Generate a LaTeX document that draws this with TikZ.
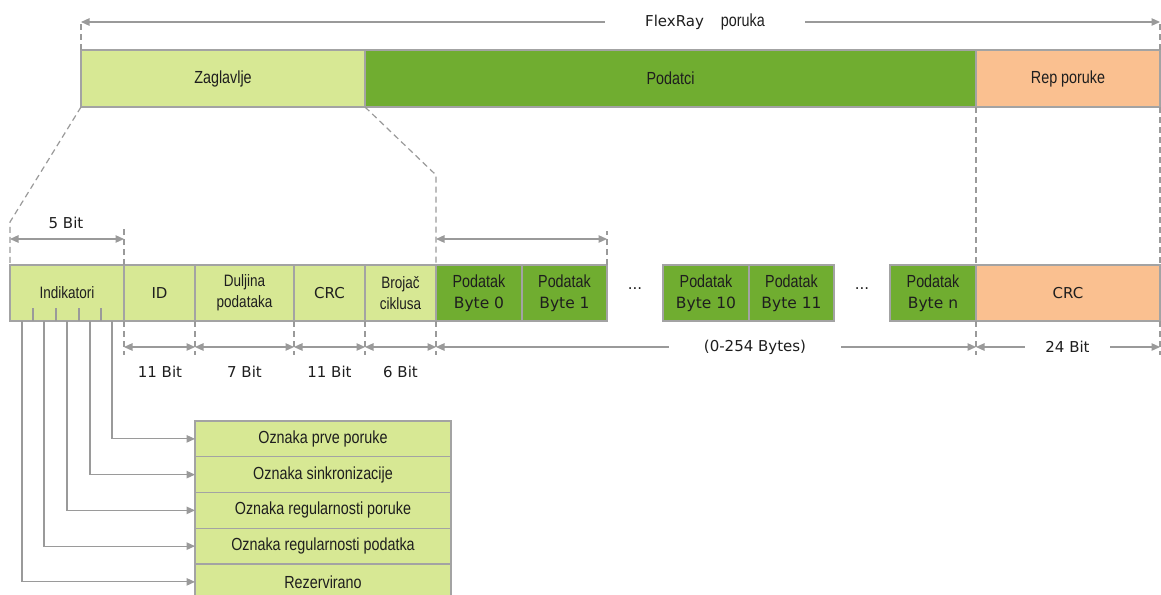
\documentclass[tikz,border=0pt]{standalone}
\usepackage{fontspec}
\usetikzlibrary{arrows.meta}
\newfontfamily\narrowf{Liberation Sans}[FakeStretch=0.82]
\newfontfamily\verdf{DejaVu Sans}
\definecolor{lg}{HTML}{D7E894}
\definecolor{dg}{HTML}{70AD30}
\definecolor{og}{HTML}{FAC090}
\definecolor{bd}{HTML}{A3A3A3}
\definecolor{ln}{HTML}{9A9A9A}
\definecolor{tx}{HTML}{1E1E1E}
\begin{document}
\begin{tikzpicture}[x=1pt,y=-1pt,
 cell/.style={draw=bd, line width=1.2pt, anchor=north west, inner sep=0pt, outer sep=0pt, text=tx, align=center},
 nf/.style={font=\narrowf\fontsize{17.5}{21}\selectfont},
 nfs/.style={font=\narrowf\fontsize{16.5}{21}\selectfont},
 vf/.style={font=\verdf\fontsize{15}{21}\selectfont},
 dim/.style={draw=ln, line width=1.2pt, {Triangle[length=8.5pt,width=7.5pt]}-{Triangle[length=8.5pt,width=7.5pt]}},
 guide/.style={draw=ln, line width=1.2pt, dash pattern=on 6pt off 4pt},
 conn/.style={draw=ln, line width=1.2pt, -{Triangle[length=8.5pt,width=7.5pt]}},
 tick/.style={draw=ln, line width=1.2pt},
 lbl/.style={vf, text=tx, fill=white, inner ysep=1pt}
]
\clip (0,0) rectangle (1161,594);
\fill[white] (0,0) rectangle (1161,594);

% top bar
\node[cell,fill=lg,nf,minimum width=284,minimum height=57] (zag) at (81,50) {Zaglavlje};
\node[cell,fill=dg,nf,minimum width=611,minimum height=57] (pod) at (365,50) {Podatci};
\node[cell,fill=og,nf,minimum width=184,minimum height=57] (rep) at (976,50) {Rep poruke};

% top dimension
\coordinate (tl) at (81,22);
\coordinate (tr) at (1160,22);
\draw[guide] (zag.north west) -- (tl);
\draw[guide] (rep.north east) -- (tr);
\draw[dim] (tl) -- (tr);
\node[lbl, inner xsep=40pt] (flex) at (705,22) {{\verdf FlexRay}\hspace{17pt}{\narrowf\fontsize{17.5}{21}\selectfont poruka}};

% row
\node[cell,fill=lg,nfs,minimum width=114,minimum height=56] (ind) at (10,265) {Indikatori};
\node[cell,fill=lg,vf,minimum width=71,minimum height=56] (id) at (124,265) {ID};
\node[cell,fill=lg,nfs,minimum width=99,minimum height=56] (dul) at (195,265) {Duljina\\podataka};
\node[cell,fill=lg,vf,minimum width=71,minimum height=56] (crca) at (294,265) {CRC};
\node[cell,fill=lg,nfs,minimum width=71,minimum height=56] (broj) at (365,265) {Brojač\\ciklusa};
\node[cell,fill=dg,nf,minimum width=86,minimum height=56] (b0) at (436,265) {Podatak\\{\verdf\fontsize{15.5}{21}\selectfont Byte 0}};
\node[cell,fill=dg,nf,minimum width=85,minimum height=56] (b1) at (522,265) {Podatak\\{\verdf\fontsize{15.5}{21}\selectfont Byte 1}};
\node[cell,fill=dg,nf,minimum width=86,minimum height=56] (b10) at (663,265) {Podatak\\{\verdf\fontsize{15.5}{21}\selectfont Byte 10}};
\node[cell,fill=dg,nf,minimum width=85,minimum height=56] (b11) at (749,265) {Podatak\\{\verdf\fontsize{15.5}{21}\selectfont Byte 11}};
\node[cell,fill=dg,nf,minimum width=86,minimum height=56] (bn) at (890,265) {Podatak\\{\verdf\fontsize{15.5}{21}\selectfont Byte n}};
\node[cell,fill=og,vf,minimum width=184,minimum height=56] (crcb) at (976,265) {CRC};
\node[vf,text=tx] (dots1) at (635,289) {...};
\node[vf,text=tx] (dots2) at (862,289) {...};

% zoom guides
\coordinate (kl) at (10,222);
\coordinate (kr) at (436,175);
\draw[guide] (zag.south west) -- (kl) -- (ind.north west);
\draw[guide] (zag.south east) -- (kr) -- (b0.north west);
\draw[guide] (pod.south east) -- (crcb.north west);
\draw[guide] (rep.south east) -- (crcb.north east);

% 5 bit
\coordinate (f1) at (10,239);
\coordinate (f2) at (124,239);
\coordinate (f2t) at (124,229);
\draw[guide] (ind.north east) -- (f2t);
\draw[dim] (f1) -- (f2);
\node[vf,text=tx] (fivebit) at (66,223) {5 Bit};

% byte dim
\coordinate (g1) at (436,239);
\coordinate (g2) at (607,239);
\coordinate (g2t) at (607,231);
\draw[guide] (b1.north east) -- (g2t);
\draw[dim] (g1) -- (g2);

% bottom dims
\foreach \n/\x in {a/124,b/195,c/294,d/365,e/436,f/976,g/1160}{
  \coordinate (h\n) at (\x,347);
  \coordinate (v\n) at (\x,321);
  \coordinate (w\n) at (\x,355);
  \draw[guide] (v\n) -- (w\n);
}
\draw[dim] (ha) -- (hb);
\draw[dim] (hb) -- (hc);
\draw[dim] (hc) -- (hd);
\draw[dim] (hd) -- (he);
\draw[dim] (he) -- (hf);
\draw[dim] (hf) -- (hg);
\node[vf,text=tx] (l1) at (160,372) {11 Bit};
\node[vf,text=tx] (l2) at (244.5,372) {7 Bit};
\node[vf,text=tx] (l3) at (329.5,372) {11 Bit};
\node[vf,text=tx] (l4) at (400.5,372) {6 Bit};
\node[lbl, inner xsep=35pt] (lbytes) at (755,347) {(0-254 Bytes)};
\node[lbl, inner xsep=20pt] (l24) at (1067.5,347) {24 Bit};

% indicator ticks
\foreach \x in {33,56,79,101}{\draw[tick] (\x,308) -- (\x,321);}

% flag list
\node[cell,fill=lg,nf,minimum width=256,minimum height=35.75] (r1) at (195,421) {Oznaka prve poruke};
\node[cell,fill=lg,nf,minimum width=256,minimum height=35.75] (r2) at (195,456.75) {Oznaka sinkronizacije};
\node[cell,fill=lg,nf,minimum width=256,minimum height=35.75] (r3) at (195,492.5) {Oznaka regularnosti poruke};
\node[cell,fill=lg,nf,minimum width=256,minimum height=35.75] (r4) at (195,528.25) {Oznaka regularnosti podatka};
\node[cell,fill=lg,nf,minimum width=256,minimum height=35.75] (r5) at (195,564) {Rezervirano};

\coordinate (i1) at (112,321);
\coordinate (i2) at (90,321);
\coordinate (i3) at (67,321);
\coordinate (i4) at (44,321);
\coordinate (i5) at (22,321);
\draw[conn] (i1) |- (r1.west);
\draw[conn] (i2) |- (r2.west);
\draw[conn] (i3) |- (r3.west);
\draw[conn] (i4) |- (r4.west);
\draw[conn] (i5) |- (r5.west);
\end{tikzpicture}
\end{document}
